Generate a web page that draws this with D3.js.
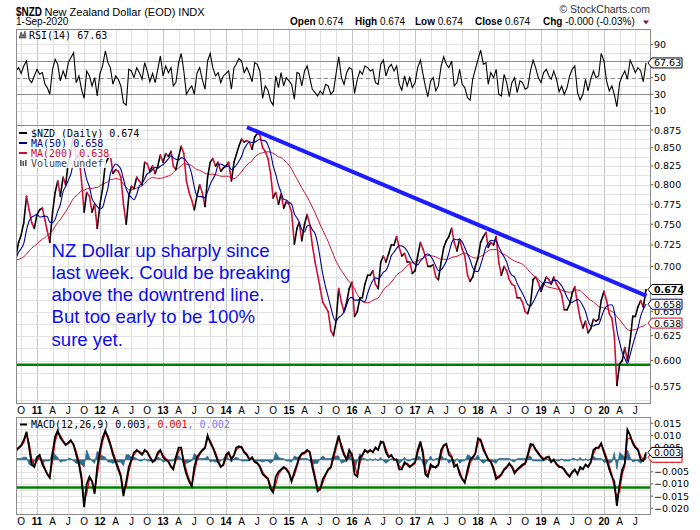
<!DOCTYPE html>
<html><head><meta charset="utf-8">
<script src="https://cdn.jsdelivr.net/npm/d3@7"></script>
<style>body{margin:0;background:#fff}svg{display:block}</style>
</head><body>
<script>
// ---------- DATA (semi-monthly readings: 1st and 16th of each month) ----------
// closes before the visible window (Nov 2009 - Aug 2010), used only to seed the moving averages
const priorCloses = [0.715,0.722,0.716,0.712,0.718,0.722,0.700,0.692,0.698,0.712,0.708,0.722,0.722,0.690,0.682,0.700,0.692,0.715,0.722,0.705];
// $NZD closes, 1-Sep-2010 .. 1-Sep-2020
const closes = [
0.712,0.728,0.737,0.752,0.785,0.768,0.752,0.745,
0.762,0.768,0.770,0.755,0.742,0.728,0.765,0.790,0.805,0.785,0.810,0.800,0.830,0.845,0.868,0.835,0.840,0.805,0.765,0.790,0.785,0.765,0.775,0.745,
0.775,0.795,0.828,0.835,0.840,0.815,0.820,0.818,0.810,0.775,0.750,0.785,0.798,0.795,0.810,0.805,0.800,0.830,0.828,0.818,0.825,0.815,0.825,0.840,
0.830,0.842,0.838,0.845,0.825,0.820,0.838,0.852,0.842,0.805,0.790,0.780,0.768,0.785,0.800,0.790,0.772,0.810,0.830,0.835,0.825,0.830,0.818,0.822,
0.825,0.830,0.805,0.830,0.840,0.852,0.862,0.858,0.860,0.858,0.848,0.865,0.870,0.868,0.850,0.845,0.835,0.815,0.783,0.790,0.775,0.788,0.770,0.778,
0.775,0.765,0.726,0.745,0.752,0.730,0.750,0.762,0.750,0.725,0.705,0.690,0.675,0.660,0.655,0.650,0.630,0.625,0.640,0.675,0.660,0.650,0.660,0.675,
0.682,0.645,0.650,0.665,0.665,0.680,0.690,0.690,0.695,0.680,0.675,0.705,0.712,0.705,0.715,0.725,0.725,0.735,0.722,0.712,0.715,0.705,0.705,0.692,
0.695,0.712,0.728,0.720,0.712,0.700,0.700,0.702,0.688,0.685,0.705,0.722,0.730,0.735,0.745,0.728,0.718,0.732,0.720,0.712,0.690,0.683,0.688,0.700,
0.710,0.728,0.735,0.740,0.722,0.728,0.725,0.735,0.705,0.690,0.700,0.695,0.685,0.680,0.678,0.665,0.665,0.660,0.650,0.648,0.658,0.685,0.688,0.682,
0.672,0.680,0.688,0.685,0.680,0.688,0.680,0.675,0.668,0.652,0.652,0.658,0.670,0.677,0.658,0.643,0.633,0.640,0.628,0.632,0.642,0.640,0.642,0.662,
0.672,0.662,0.648,0.643,0.625,0.576,0.597,0.600,0.613,0.600,0.620,0.645,0.645,0.655,0.662,0.655,0.674];
const rsi14 = [
58,62,55,64,70,48,44,52,
60,54,56,42,38,30,60,72,66,46,58,50,68,74,80,44,52,36,25,58,52,40,50,28,
55,64,82,68,62,42,52,48,40,20,17,60,58,50,62,56,48,68,58,45,55,44,60,76,
52,64,56,62,40,44,68,79,58,30,36,40,30,55,62,48,36,70,79,62,52,56,44,52,
55,58,36,62,66,73,70,56,62,55,45,68,66,58,25,40,35,22,17,52,38,56,40,50,
46,42,24,56,55,40,58,64,50,36,32,28,34,30,42,40,30,34,55,75,50,42,56,62,
60,31,48,58,54,64,62,58,60,44,42,66,71,52,62,66,58,64,42,35,52,40,50,38,
44,62,71,54,40,27,46,50,34,40,64,75,66,62,70,40,44,60,42,38,26,23,48,60,
72,83,66,68,42,56,50,60,30,28,54,44,27,44,50,32,46,44,36,38,58,71,62,50,
44,56,60,52,48,58,48,33,40,30,38,52,60,64,32,23,30,48,34,48,58,50,52,79,
70,46,34,40,30,15,44,52,58,48,71,64,56,62,58,45,67.63];
const macdLine = [
0.004,0.005,0.006,0.008,0.0115,0.005,-0.002,-0.003,
0.001,0.002,-0.002,-0.004,-0.006,-0.0075,0.003,0.0095,0.012,0.009,0.0075,0.006,0.007,0.008,0.006,0.002,-0.002,-0.008,-0.0195,-0.010,-0.007,-0.009,-0.014,-0.003,
0.004,0.009,0.012,0.009,0.006,0.002,-0.001,-0.004,-0.007,-0.015,-0.009,-0.003,0.000,0.003,0.004,0.003,0.002,0.004,0.003,0.001,-0.001,0.000,0.003,0.004,
0.001,0.000,-0.001,-0.003,-0.004,0.001,0.005,0.005,-0.002,-0.006,-0.009,-0.011,-0.003,0.001,0.0026,0.004,0.005,0.010,0.007,0.005,0.002,-0.001,-0.003,-0.002,
0.002,0.003,0.000,0.002,0.005,0.0055,0.005,0.003,0.002,0.000,0.001,-0.001,-0.0015,-0.003,-0.006,-0.007,-0.008,-0.012,-0.0135,-0.007,-0.005,-0.004,-0.003,-0.004,
-0.0056,-0.009,-0.005,-0.002,0.001,0.0026,0.003,0.004,0.003,-0.003,-0.008,-0.013,-0.012,-0.008,-0.006,-0.004,-0.003,0.002,0.006,0.010,0.005,0.002,0.000,0.004,
0.002,-0.006,-0.007,0.001,0.002,0.004,0.003,0.004,0.003,0.005,0.004,0.0075,0.007,0.003,0.001,0.002,0.000,0.000,-0.004,-0.004,-0.001,-0.002,-0.003,-0.002,
-0.001,0.004,0.0075,0.002,-0.006,-0.007,-0.002,-0.003,-0.003,-0.002,0.004,0.006,0.0065,0.002,0.001,-0.003,-0.002,-0.006,-0.008,-0.0095,-0.004,0.000,0.001,0.0026,
0.0088,0.008,0.004,0.002,0.000,-0.001,-0.004,-0.008,-0.007,-0.006,-0.004,-0.003,-0.0015,-0.003,-0.0056,-0.004,-0.003,-0.002,-0.0015,0.002,0.0065,0.006,0.004,0.0026,
0.001,0.000,0.001,0.001,-0.001,0.000,-0.002,-0.003,-0.003,-0.0042,-0.006,-0.007,-0.005,-0.004,-0.006,-0.003,-0.004,-0.002,-0.003,-0.001,0.004,0.005,0.005,0.0068,
0.003,0.000,-0.004,-0.007,-0.009,-0.019,-0.010,-0.004,-0.0015,0.0124,0.010,0.0067,0.005,0.004,0.000,-0.0005,0.003];
const macdHist = [
0.0005,0.0005,0.0005,0.001,0.001,-0.002,-0.0025,-0.0005,
0.0015,0.0005,-0.0015,-0.0005,-0.0005,-0.0005,0.0035,0.002,0.001,-0.001,-0.0005,-0.0005,0.0005,0.0005,-0.0005,-0.0015,-0.0015,-0.002,-0.003,0.004,0.001,-0.0005,-0.0015,0.0035,
0.0025,0.0015,0.001,-0.001,-0.001,-0.0015,-0.001,-0.001,-0.001,-0.0025,0.002,0.002,0.001,0.001,0.0005,-0.0005,-0.0005,0.0005,-0.0005,-0.0005,-0.0005,0.0005,0.001,0.0005,
-0.001,-0.0005,-0.0005,-0.0005,-0.0005,0.0015,0.0015,0.0005,-0.002,-0.0015,-0.001,-0.0005,0.0025,0.0015,0.0005,0.0005,0.0005,0.0015,-0.001,-0.0005,-0.001,-0.001,-0.0005,0.0005,
0.0015,0.0005,-0.001,0.0005,0.001,0.0005,-0.0005,-0.0005,-0.0005,-0.0005,0.0005,-0.0005,-0.0005,-0.0005,-0.001,-0.0005,-0.0005,-0.0015,-0.0005,0.003,0.001,0.0005,0.0005,-0.0005,
-0.0005,-0.001,0.0015,0.001,0.001,0.0005,0.0005,0.0005,-0.0005,-0.002,-0.0015,-0.0015,0.0005,0.0015,0.0005,0.0005,0.0005,0.0015,0.0015,0.0015,-0.0015,-0.001,-0.0005,0.003,
-0.0005,-0.004,-0.0005,0.0025,0.0005,0.0005,-0.0005,0.0005,-0.0005,0.0005,-0.0005,0.001,-0.0005,-0.0015,-0.0005,0.0005,-0.0005,0.0005,-0.0015,-0.0005,0.001,-0.0005,-0.0005,0.0005,
0.0005,0.0015,0.001,-0.002,-0.0025,-0.0005,0.0015,-0.0005,0.0005,0.0005,0.002,0.0005,0.0005,-0.0015,-0.0005,-0.0015,0.0005,-0.0015,-0.0005,-0.0005,0.002,0.0015,0.0005,0.0005,
0.002,-0.0005,-0.0015,-0.0005,-0.0005,-0.0005,-0.001,-0.0015,0.0005,0.0005,0.0005,0.0005,0.0005,-0.0005,-0.001,0.0005,0.0005,0.0005,0.0005,0.001,0.0015,-0.0005,-0.0005,-0.0005,
-0.0005,-0.0005,0.0005,-0.0005,-0.0005,0.0005,-0.0005,-0.0005,0.0005,-0.0005,-0.0005,-0.0005,0.0005,0.0005,-0.0005,0.001,-0.0005,0.0005,-0.0005,0.0005,0.0015,0.0005,0.0005,0.0005,
-0.001,-0.001,-0.0015,-0.001,0.003,-0.004,0.003,0.002,0.001,0.004,0.001,-0.001,-0.0005,-0.0005,-0.0015,-0.0005,0.002];
const trendPoints = [["2014-05-02",0.879],["2020-09-04",0.667]];
const supportPrice = 0.596;
const macdSupport = -0.0115;
// 0.675 sits under the last-close tag in the reference, so it is not labelled
const priceTicks = [0.875,0.850,0.825,0.800,0.775,0.750,0.725,0.700,0.650,0.625,0.600,0.575];
const rsiTicks = [90,50,30,10];
const macdTicks = [0.015,0.010,0.005,0.000,-0.005,-0.010,-0.015,-0.020];
const monthLetters = {3:"A",6:"J",9:"O"};
const noteLines = ["NZ Dollar up sharply since","last week. Could be breaking","above the downtrend line.","But too early to be 100%","sure yet."];
const legendRows = [["$NZD (Daily) 0.674","#000"],["MA(50) 0.658","#000080"],["MA(200) 0.638","#c8102e"],["Volume undef","#444"]];
const lastTags = {close:"0.674", ma50:"0.658", ma200:"0.638", rsi:"67.63", macd:"0.003", signal:"0.001"};

// ---------- LAYOUT ----------
const W=700,H=530, L=16, R=650;
const rsiTop=29, rsiBot=125, mainTop=125, mainBot=403, macdTop=417, macdBot=514;
const svg=d3.select("body").append("svg").attr("width",W).attr("height",H)
  .style("font-family","'Liberation Sans',Arial,sans-serif");
svg.append("rect").attr("width",W).attr("height",H).attr("fill","#fff");

function semiMonthly(y,m,n){const a=[];for(let i=0;i<n;i++)a.push(new Date(y,m+Math.floor(i/2),i%2?16:1));return a;}
const dates = semiMonthly(2010,8,closes.length);
const all = priorCloses.concat(closes);
const off = priorCloses.length;
function ma(n){return closes.map((c,i)=>d3.mean(all.slice(i+off-n+1,i+off+1)));}
const ma50 = ma(5), ma200 = ma(19);

const x=d3.scaleTime().domain([new Date(2010,8,1),new Date(2020,8,24)]).range([L,R]);
const yP=d3.scaleLog().domain([0.5598,0.8822]).range([mainBot,mainTop]);
const yR=d3.scaleLinear().domain([-6.9,108.4]).range([rsiBot,rsiTop]);
const yM=d3.scaleLinear().domain([-0.02236,0.01758]).range([macdBot,macdTop]);
const quarters=d3.timeMonth.every(3).range(new Date(2010,9,1),new Date(2020,8,2));

const defs=svg.append("defs");
function clip(id,t,b){defs.append("clipPath").attr("id",id).append("rect").attr("x",L).attr("y",t).attr("width",R-L).attr("height",b-t);}
clip("cR",rsiTop,rsiBot);clip("cP",mainTop,mainBot);clip("cM",macdTop,macdBot);

function vgrid(t,b){
  svg.append("g").selectAll("line").data(quarters).join("line")
    .attr("x1",d=>Math.round(x(d))+0.5).attr("x2",d=>Math.round(x(d))+0.5).attr("y1",t).attr("y2",b)
    .attr("stroke",d=>d.getMonth()===0?"#c4c4c4":"#dedede").attr("stroke-width",1);
}
function hgrid(vals,scale,col){
  svg.append("g").selectAll("line").data(vals).join("line")
    .attr("x1",L).attr("x2",R).attr("y1",d=>Math.round(scale(d))+0.5).attr("y2",d=>Math.round(scale(d))+0.5)
    .attr("stroke",col).attr("stroke-width",1);
}
vgrid(rsiTop,rsiBot); vgrid(mainTop,mainBot); vgrid(macdTop,macdBot);
hgrid(d3.range(10,100,10),yR,"#e2e2e2");
hgrid(d3.range(0,28).map(k=>0.5625+0.0125*k).filter(v=>v<0.88),yP,"#e2e2e2");
hgrid(d3.range(-8,8).map(k=>k*0.0025),yM,"#e2e2e2");
hgrid([70,30],yR,"#8c8c8c");
svg.append("line").attr("x1",L).attr("x2",R).attr("y1",Math.round(yR(50))+0.5).attr("y2",Math.round(yR(50))+0.5)
  .attr("stroke","#8c8c8c").attr("stroke-dasharray","4,3");

// axis labels
const axF="'DejaVu Sans',Verdana,sans-serif";
function rightLabels(vals,scale,fmt){
  const g=svg.append("g").style("font-family",axF).style("font-size","9.5px").attr("fill","#000");
  g.selectAll("line").data(vals).join("line").attr("x1",R).attr("x2",R+3)
    .attr("y1",d=>scale(d)).attr("y2",d=>scale(d)).attr("stroke","#555");
  g.selectAll("text").data(vals).join("text").attr("x",R+4).attr("y",d=>scale(d)+3.5).text(fmt);
}
rightLabels(rsiTicks,yR,d=>d);
rightLabels(priceTicks,yP,d=>d3.format(".3f")(d));
rightLabels(macdTicks,yM,d=>d3.format(".3f")(d));

function xLabels(yy){
  const g=svg.append("g").style("font-size","10px").attr("text-anchor","middle");
  g.selectAll("text").data(quarters).join("text").attr("x",d=>x(d)).attr("y",yy)
    .style("font-weight",d=>d.getMonth()===0?"bold":"normal")
    .text(d=>d.getMonth()===0?d3.timeFormat("%y")(d):monthLetters[d.getMonth()]);
}
xLabels(414); xLabels(525);

// ---------- RSI ----------
const gR=svg.append("g").attr("clip-path","url(#cR)");
gR.append("path").datum(rsi14).attr("fill","none").attr("stroke","#000").attr("stroke-width",1.1)
  .attr("d",d3.line().x((d,i)=>x(dates[i])).y(d=>yR(d)));

// ---------- PRICE ----------
const gP=svg.append("g").attr("clip-path","url(#cP)");
gP.append("line").attr("x1",L).attr("x2",R).attr("y1",yP(supportPrice)).attr("y2",yP(supportPrice))
  .attr("stroke","#008000").attr("stroke-width",2.5);
gP.append("path").datum(ma200).attr("fill","none").attr("stroke","#cc1133").attr("stroke-width",1)
  .attr("d",d3.line().x((d,i)=>x(dates[i])).y(d=>yP(d)).curve(d3.curveMonotoneX));
const segs=d3.range(1,closes.length);
gP.append("g").selectAll("line").data(segs).join("line")
  .attr("x1",i=>x(dates[i-1])).attr("y1",i=>yP(closes[i-1]))
  .attr("x2",i=>x(dates[i])).attr("y2",i=>yP(closes[i]))
  .attr("stroke",i=>closes[i]>=closes[i-1]?"#000":"#d0103a").attr("stroke-width",1.6).attr("stroke-linecap","round");
gP.append("path").datum(ma50).attr("fill","none").attr("stroke","#000090").attr("stroke-width",1.1)
  .attr("d",d3.line().x((d,i)=>x(dates[i])).y(d=>yP(d)).curve(d3.curveMonotoneX));
gP.append("path").datum(trendPoints).attr("fill","none").attr("stroke","#1c1cff").attr("stroke-width",4)
  .attr("d",d3.line().x(d=>x(new Date(d[0]))).y(d=>yP(d[1])));

// ---------- MACD ----------
const gM=svg.append("g").attr("clip-path","url(#cM)");
gM.append("path").datum(macdHist).attr("fill","#2d6e8e").attr("stroke","#2d6e8e").attr("stroke-width",0.8)
  .attr("d",d3.area().x((d,i)=>x(dates[i])).y0(yM(0)).y1(d=>yM(d)));
gM.append("line").attr("x1",L).attr("x2",R).attr("y1",yM(macdSupport)).attr("y2",yM(macdSupport))
  .attr("stroke","#008000").attr("stroke-width",2.5);
const signal=macdLine.map((m,i)=>m-macdHist[i]);
gM.append("path").datum(signal).attr("fill","none").attr("stroke","#e00000").attr("stroke-width",1.2)
  .attr("d",d3.line().x((d,i)=>x(dates[i])).y(d=>yM(d)));
gM.append("path").datum(macdLine).attr("fill","none").attr("stroke","#000").attr("stroke-width",1.8)
  .attr("d",d3.line().x((d,i)=>x(dates[i])).y(d=>yM(d)));

[[rsiTop,rsiBot],[mainTop,mainBot],[macdTop,macdBot]].forEach(([t,b])=>
  svg.append("rect").attr("x",L+0.5).attr("y",t+0.5).attr("width",R-L).attr("height",b-t).attr("fill","none").attr("stroke","#8a8a8a"));

// ---------- TAGS ----------
function tag(yv,txt,col,bold){
  const g=svg.append("g");
  g.append("path").attr("d",`M${R-2},${yv} L${R+2},${yv-5} L${R+32},${yv-5} L${R+32},${yv+5} L${R+2},${yv+5} Z`)
    .attr("fill","#fff").attr("stroke",col).attr("stroke-width",1);
  if(txt) g.append("text").attr("x",R+4).attr("y",yv+3.5).style("font-family",axF).style("font-size","9.5px")
    .style("font-weight",bold?"bold":"normal").attr("fill","#000").text(txt);
}
tag(yR(rsi14[rsi14.length-1]),lastTags.rsi,"#000",false);
tag(yP(+lastTags.ma200),lastTags.ma200,"#c8102e",false);
tag(yP(+lastTags.ma50),lastTags.ma50,"#000090",false);
tag(yP(closes[closes.length-1]),lastTags.close,"#000",true);
tag(yM(+lastTags.signal),"","#e00000",false);
tag(yM(macdLine[macdLine.length-1]),lastTags.macd,"#000",false);

// ---------- LEGENDS ----------
const lgF="'DejaVu Sans Mono',monospace";
const lg=svg.append("g").style("font-family",lgF).style("font-size","10px");
legendRows.forEach((r,k)=>{
  const yy=133+k*10;
  lg.append("rect").attr("x",18).attr("y",yy-5).attr("width",r[0].length*6+16).attr("height",10).attr("fill","#fff").attr("opacity",0.85);
  if(k<3) lg.append("line").attr("x1",19).attr("x2",27).attr("y1",yy).attr("y2",yy).attr("stroke",r[1]).attr("stroke-width",2);
  else [0,1,2].forEach(j=>lg.append("rect").attr("x",20+j*2.5).attr("y",yy-3+(j%2?1:0)).attr("width",1.6).attr("height",6-(j%2?1:0)).attr("fill","#555"));
  lg.append("text").attr("x",31).attr("y",yy+3.5).attr("fill",r[1]).text(r[0]);
});
const rl=svg.append("g").style("font-family",lgF).style("font-size","10px");
rl.append("path").attr("d","M19,38 L21,32 L23,36 L25,31 L26,38 Z").attr("fill","#777").attr("stroke","#333").attr("stroke-width",0.6);
rl.append("text").attr("x",29).attr("y",38.5).text("RSI(14) 67.63");
const ml=svg.append("g").style("font-family",lgF).style("font-size","10px");
ml.append("line").attr("x1",20).attr("x2",27).attr("y1",424.5).attr("y2",424.5).attr("stroke","#000").attr("stroke-width",2);
const mt=ml.append("text").attr("x",31).attr("y",428);
mt.append("tspan").attr("fill","#000").text("MACD(12,26,9) 0.003");
mt.append("tspan").attr("fill","#e00000").text(", 0.001");
mt.append("tspan").attr("fill","#7a7aee").text(", 0.002");

// ---------- NOTE ----------
const nt=svg.append("g").style("font-size","18.6px").attr("fill","#0c0cec");
noteLines.forEach((t,k)=>nt.append("text").attr("x",51.5).attr("y",256.7+k*22.2).text(t));

// ---------- HEADER ----------
const hd=svg.append("g");
hd.append("text").attr("x",16).attr("y",16).style("font-weight","bold").style("font-size","13px")
  .attr("textLength",26).attr("lengthAdjust","spacingAndGlyphs").text("$NZD");
hd.append("text").attr("x",44.5).attr("y",16).style("font-size","11px").text("New Zealand Dollar (EOD) INDX");
hd.append("text").attr("x",16).attr("y",25).style("font-size","10px").text("1-Sep-2020");
hd.append("text").attr("x",650).attr("y",13).attr("text-anchor","end").style("font-size","10.5px").attr("fill","#333").text("\u00A9 StockCharts.com");
[["Open"," 0.674",290],["High"," 0.674",355],["Low"," 0.674",415],["Close"," 0.674",475],["Chg"," -0.000 (-0.03%)",543]].forEach(([a,b,xx])=>{
  const t=hd.append("text").attr("x",xx).attr("y",25).style("font-size","10px");
  t.append("tspan").style("font-weight","bold").text(a);
  t.append("tspan").text(b);
});
hd.append("path").attr("d","M643,20.5 L649,20.5 L646,24.5 Z").attr("fill","#8b1538");
</script>
</body></html>
